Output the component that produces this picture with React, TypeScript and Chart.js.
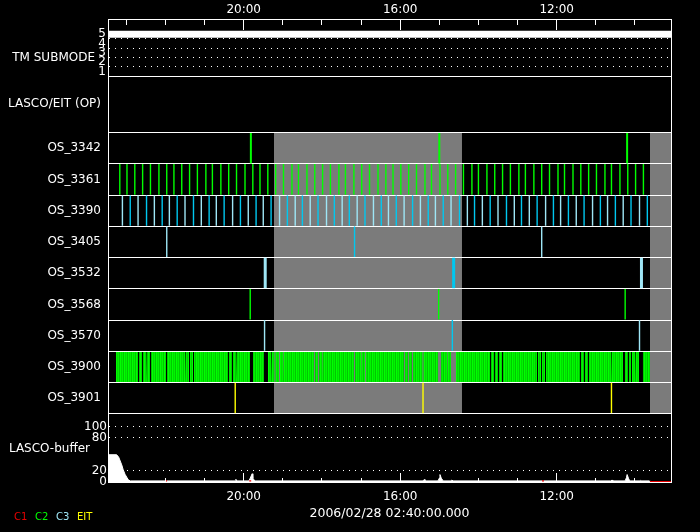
import React, { useEffect, useRef } from 'react';
import { Chart, registerables } from 'chart.js';

Chart.register(...registerables);

// ---------------- data (times of day, the axis runs backwards) ----------------
const X_FROM = '23:28:06';
const X_TO = '09:04:42';
const HOUR_TICKS = [10, 11, 12, 13, 14, 15, 16, 17, 18, 19, 20, 21, 22, 23];
const MAJOR_HOURS = [12, 16, 20];
const DATE_TITLE = '2006/02/28 02:40:00.000';

const TM_TITLE = 'TM SUBMODE';
const TM_TICKS = [1, 1.5, 2, 2.5, 3, 3.5, 4, 4.5, 5];
const TM_TIMES = [X_FROM, X_TO];
const TM_VALUES = [5, 5];

const OP_TITLE = 'LASCO/EIT (OP)';

const BUF_TITLE = 'LASCO-buffer';
const BUF_TICKS = [0, 20, 80, 100];
const BUF_TIMES = [
  '23:28', '23:15', '23:12', '23:10', '23:07', '23:05', '23:02', '22:59', '22:57', '22:54',
  '20:13', '20:12', '20:10',
  '19:52', '19:50', '19:47', '19:46', '19:43',
  '15:25', '15:23', '15:22',
  '15:02', '15:00', '14:59', '14:57', '14:54',
  '14:42', '14:41', '14:39',
  '10:37', '10:35', '10:34',
  '10:15', '10:13', '10:12', '10:10', '10:08',
  '09:52', '09:51', '09:50',
  '09:38', '09:37', '09:04',
];
const BUF_VALUES = [
  49.5, 49.5, 46, 40, 31, 23, 14, 8, 4, 2,
  2, 4.8, 2,
  2, 7, 15, 7, 2,
  2, 4.5, 2,
  2, 7, 13.5, 7, 2,
  2, 3.5, 2,
  2, 3.5, 2,
  2, 8, 13.5, 7, 2,
  2, 3, 2,
  2, 0, 0,
];
const RED_MARK_TIMES = ['21:59', '19:50', '12:21'];
const RED_SPAN = ['09:37', X_TO];

const NO_DATA = [
  ['19:13:32', '14:25:14'],
  ['09:36:54', X_TO],
];

const ROW_NAMES = ['OS_3342', 'OS_3361', 'OS_3390', 'OS_3405', 'OS_3532', 'OS_3568', 'OS_3570', 'OS_3900', 'OS_3901'];

const OS_3342_T = ['19:49', '15:00', '10:12'];
const OS_3361_T = [
  '23:10', '22:59', '22:47', '22:35', '22:23', '22:10', '21:58', '21:47', '21:35', '21:23',
  '21:11', '20:58', '20:48', '20:35', '20:23', '20:11', '19:58', '19:46', '19:35', '19:23',
  '19:11', '18:59', '18:46', '18:36', '18:23', '18:11', '17:59', '17:47', '17:34', '17:24',
  '17:11', '16:59', '16:47', '16:34', '16:22', '16:11', '15:59', '15:47', '15:35', '15:22',
  '15:12', '14:59', '14:47', '14:35', '14:23', '14:10', '14:00', '13:47', '13:35', '13:23',
  '13:11', '12:58', '12:48', '12:35', '12:23', '12:11', '11:58', '11:48', '11:35', '11:23',
  '11:11', '10:59', '10:46', '10:36', '10:23', '10:11', '09:59', '09:47',
];
const OS_3390_T = [
  '23:06', '22:54', '22:42', '22:29', '22:17', '22:05', '21:54', '21:42', '21:30', '21:17',
  '21:05', '20:53', '20:42', '20:30', '20:17', '20:05', '19:53', '19:41', '19:30', '19:18',
  '19:05', '18:53', '18:41', '18:30', '18:18', '18:06', '17:53', '17:41', '17:29', '17:18',
  '17:06', '16:54', '16:41', '16:29', '16:18', '16:06', '15:54', '15:41', '15:29', '15:17',
  '15:06', '14:54', '14:42', '14:29', '14:17', '14:06', '13:54', '13:42', '13:30', '13:17',
  '13:05', '12:54', '12:42', '12:30', '12:17', '12:05', '11:54', '11:42', '11:30', '11:18',
  '11:05', '10:53', '10:42', '10:30', '10:18', '10:06', '09:53', '09:41',
];
const OS_3405_T = ['21:58', '17:10', '12:23'];
const OS_3532_T = ['19:27', '14:38', '09:50'];
const OS_3568_T = ['19:50', '15:01', '10:15'];
const OS_3570_T = ['19:28', '14:40', '09:53'];
const OS_3900_ON = [
  ['23:15:48', '22:42:06'], ['22:40:36', '22:35:54'], ['22:34:24', '22:29:48'], ['22:28:18', '22:23:42'],
  ['22:22:06', '21:59:06'], ['21:57:36', '21:30:00'], ['21:28:30', '21:23:54'], ['21:22:18', '21:17:42'],
  ['21:16:12', '20:24:06'], ['20:22:30', '20:17:54'], ['20:16:24', '20:11:48'], ['20:10:18', '19:50:18'],
  ['19:45:42', '19:28:54'], ['19:22:42', '19:18:06'], ['19:16:36', '19:12:48'], ['19:11:12', '19:05:54'],
  ['19:04:18', '18:59:42'], ['18:58:12', '18:12:12'], ['18:10:42', '18:06:06'], ['18:04:30', '17:59:54'],
  ['17:58:24', '17:10:48'], ['17:09:18', '17:00:06'], ['16:58:36', '16:54:00'], ['16:52:30', '15:54:12'],
  ['15:52:42', '15:48:06'], ['15:46:36', '15:42:00'], ['15:40:24', '15:25:48'], ['15:24:18', '15:02:00'],
  ['14:57:24', '14:48:12'], ['14:46:42', '14:42:06'], ['14:34:24', '13:42:18'], ['13:40:48', '13:36:12'],
  ['13:34:42', '13:30:06'], ['13:28:30', '13:23:54'], ['13:22:24', '12:30:18'], ['12:28:42', '12:24:06'],
  ['12:22:36', '12:18:00'], ['12:16:24', '11:24:18'], ['11:22:42', '11:18:12'], ['11:16:36', '11:12:00'],
  ['11:10:30', '10:36:42'], ['10:35:12', '10:18:18'], ['10:15:18', '10:10:42'], ['10:09:06', '10:06:06'],
  ['10:04:30', '09:59:54'], ['09:58:24', '09:53:48'], ['09:47:42', '09:36:54'],
];
const OS_3901_T = ['20:13', '15:25', '10:36'];

// ---------------- styles ----------------
const WHITE = '#ffffff';
const GRAY = '#7b7b7b';
const GREEN = '#00ff00';
const CYAN = '#00c8f0';
const LIGHT_CYAN = '#9ee6f6';
const YELLOW = '#ffff00';
const RED = '#e80000';
const CLEAR = 'rgba(0,0,0,0)';
const FAMILY = "'DejaVu Sans', sans-serif";
const FONT = { family: FAMILY, size: 12 };
const LEFT_W = 108;
const THIN = 1.4;

const LEGEND: [string, string][] = [['C1', RED], ['C2', GREEN], ['C3', LIGHT_CYAN], ['EIT', YELLOW]];

const alt = (a: string, b: string) => (c: any) => (c.dataIndex % 2 ? b : a);

const ROW_STYLE: any[] = [
  { times: OS_3342_T, thick: 2, color: GREEN },
  { times: OS_3361_T, thick: THIN, color: GREEN },
  { times: OS_3390_T, thick: THIN, color: alt(LIGHT_CYAN, CYAN) },
  { times: OS_3405_T, thick: THIN, color: [LIGHT_CYAN, CYAN, LIGHT_CYAN] },
  { times: OS_3532_T, thick: 3, color: [LIGHT_CYAN, CYAN, LIGHT_CYAN] },
  { times: OS_3568_T, thick: THIN, color: GREEN },
  { times: OS_3570_T, thick: THIN, color: [LIGHT_CYAN, CYAN, LIGHT_CYAN] },
  null,
  { times: OS_3901_T, thick: THIN, color: YELLOW },
];

const toMin = (s: string): number => {
  const p = s.split(':').map(Number);
  return p[0] * 60 + p[1] + (p[2] || 0) / 60;
};
const X_MIN = toMin(X_TO);
const X_MAX = toMin(X_FROM);
const hhmm = (v: number) => `${Math.round(v / 60)}:00`;

const step = (a: string, b: string) => [
  { x: toMin(a), y: 0 }, { x: toMin(a), y: 1 }, { x: toMin(b), y: 1 }, { x: toMin(b), y: 0 },
];

const rowScale = (weight: number, stackWeight: number, label: string) => ({
  type: 'linear', axis: 'y', position: 'left', stack: 'rows', stackWeight, weight,
  min: 0, max: 1, offset: false,
  afterFit: (s: any) => { s.width = LEFT_W; },
  afterBuildTicks: (s: any) => { s.ticks = [0, 0.5, 1].map((v) => ({ value: v })); },
  ticks: { autoSkip: false, padding: 7, color: WHITE, font: FONT, callback: (v: number) => (v === 0.5 ? label : '') },
  grid: { drawTicks: false, lineWidth: 1, color: (c: any) => (c.tick && c.tick.value === 0.5 ? CLEAR : WHITE) },
  border: { display: true, color: WHITE, width: 1 },
});

const tickMarks = {
  id: 'tickMarks',
  afterDraw(chart: any) {
    const { ctx, chartArea } = chart;
    const xs = chart.scales.x;
    ctx.save();
    ctx.strokeStyle = WHITE;
    ctx.lineWidth = 1;
    ctx.beginPath();
    HOUR_TICKS.forEach((h) => {
      const px = Math.floor(xs.getPixelForValue(h * 60)) + 0.5;
      const major = MAJOR_HOURS.includes(h);
      ctx.moveTo(px, chartArea.top);
      ctx.lineTo(px, chartArea.top + (major ? 11 : 6));
      ctx.moveTo(px, chartArea.bottom);
      ctx.lineTo(px, chartArea.bottom - (major ? 9 : 4));
    });
    ctx.stroke();
    ctx.restore();
  },
};

const sideText = {
  id: 'sideText',
  afterDraw(chart: any) {
    const { ctx, chartArea } = chart;
    ctx.save();
    ctx.fillStyle = WHITE;
    ctx.font = `12px ${FAMILY}`;
    ctx.textAlign = 'right';
    ctx.textBaseline = 'middle';
    const tm = chart.scales.yTM;
    ctx.fillText(TM_TITLE, chartArea.left - 13, tm.getPixelForValue(2.5));
    const buf = chart.scales.yBuf;
    ctx.fillText(BUF_TITLE, chartArea.left - 18, (buf.top + buf.bottom) / 2 + 1);
    ctx.textAlign = 'left';
    ctx.font = `10px ${FAMILY}`;
    LEGEND.forEach(([t, c], i) => {
      ctx.fillStyle = c;
      ctx.fillText(t, 14 + i * 21, 517);
    });
    ctx.restore();
  },
};

function buildConfig(pattern: any): any {
  const datasets: any[] = [];
  datasets.push({
    type: 'line', xAxisID: 'x', yAxisID: 'yTM',
    data: TM_TIMES.map((t, i) => ({ x: toMin(t), y: TM_VALUES[i] })),
    borderColor: WHITE, borderWidth: 7, pointRadius: 0, fill: false, order: 1,
  });
  ROW_NAMES.forEach((_, i) => {
    NO_DATA.forEach(([a, b]) => {
      datasets.push({
        type: 'line', xAxisID: 'x', yAxisID: `yR${i}`, data: step(a, b),
        borderWidth: 0, borderColor: CLEAR, backgroundColor: GRAY, pointRadius: 0, fill: 'origin', order: 10,
      });
    });
  });
  datasets.push({
    type: 'line', xAxisID: 'x', yAxisID: 'yR7',
    data: OS_3900_ON.flatMap(([a, b]) => step(a, b)),
    borderWidth: 0, borderColor: CLEAR, backgroundColor: pattern || GREEN, pointRadius: 0, fill: 'origin', order: 5,
  });
  ROW_STYLE.forEach((r, i) => {
    if (!r) return;
    datasets.push({
      type: 'bar', xAxisID: 'x', yAxisID: `yR${i}`,
      data: r.times.map((t: string) => ({ x: toMin(t), y: [0, 1] })),
      backgroundColor: r.color, borderWidth: 0, barThickness: r.thick, grouped: false, inflateAmount: 0, order: 0,
    });
  });
  datasets.push({
    type: 'line', xAxisID: 'x', yAxisID: 'yBuf',
    data: BUF_TIMES.map((t, i) => ({ x: toMin(t), y: BUF_VALUES[i] })),
    borderColor: WHITE, borderWidth: 1, backgroundColor: WHITE, pointRadius: 0, fill: 'origin', order: 5,
  });
  datasets.push({
    type: 'bar', xAxisID: 'x', yAxisID: 'yBuf',
    data: RED_MARK_TIMES.map((t) => ({ x: toMin(t), y: [0, 3] })),
    backgroundColor: RED, borderWidth: 0, barThickness: 2, grouped: false, inflateAmount: 0, order: 0,
  });
  datasets.push({
    type: 'line', xAxisID: 'x', yAxisID: 'yBuf',
    data: RED_SPAN.map((t) => ({ x: toMin(t), y: 0 })),
    borderColor: RED, borderWidth: 2, pointRadius: 0, fill: false, order: 0,
  });

  const scales: any = {
    x: {
      type: 'linear', axis: 'x', position: 'top', reverse: true, min: X_MIN, max: X_MAX, offset: false,
      afterFit: (s: any) => { s.height = 19; },
      afterBuildTicks: (s: any) => { s.ticks = MAJOR_HOURS.map((h) => ({ value: h * 60 })); },
      ticks: { color: WHITE, font: FONT, padding: 2, maxRotation: 0, autoSkip: false, callback: hhmm },
      grid: { display: false, drawTicks: false },
      border: { display: true, color: WHITE, width: 1 },
    },
    x2: {
      type: 'linear', axis: 'x', position: 'bottom', reverse: true, min: X_MIN, max: X_MAX, offset: false,
      afterFit: (s: any) => { s.height = 50; },
      afterBuildTicks: (s: any) => { s.ticks = MAJOR_HOURS.map((h) => ({ value: h * 60 })); },
      ticks: { color: WHITE, font: FONT, padding: 8, maxRotation: 0, autoSkip: false, callback: hhmm },
      grid: { display: false, drawTicks: false },
      border: { display: true, color: WHITE, width: 1 },
      title: { display: true, text: DATE_TITLE, color: WHITE, font: { family: FAMILY, size: 12.5 }, padding: { top: 0, bottom: 11 } },
    },
    yTM: {
      type: 'linear', axis: 'y', position: 'left', stack: 'rows', stackWeight: 57, weight: 11,
      min: 0.53, max: 6.64, offset: false,
      afterFit: (s: any) => { s.width = LEFT_W; },
      afterBuildTicks: (s: any) => { s.ticks = TM_TICKS.map((v) => ({ value: v })); },
      ticks: { autoSkip: false, padding: 2, color: WHITE, font: FONT, callback: (v: number) => (Number.isInteger(v) ? String(v) : '') },
      grid: { drawTicks: false, lineWidth: 1, color: (c: any) => (c.tick && Number.isInteger(c.tick.value) ? CLEAR : WHITE) },
      border: { display: true, color: WHITE, width: 1, dash: [1, 5] },
    },
    yOP: rowScale(10, 56.7, OP_TITLE),
  };
  ROW_NAMES.forEach((name, i) => {
    scales[`yR${i}`] = rowScale(9 - i, 31.22, name);
  });
  scales.yBuf = {
    type: 'linear', axis: 'y', position: 'left', stack: 'rows', stackWeight: 68.3, weight: 0,
    min: 0, max: 124, offset: false,
    afterFit: (s: any) => { s.width = LEFT_W; },
    afterBuildTicks: (s: any) => { s.ticks = BUF_TICKS.map((v) => ({ value: v })); },
    ticks: { autoSkip: false, padding: 1, color: WHITE, font: FONT, callback: (v: number) => String(v) },
    grid: { drawTicks: false, lineWidth: 1, color: (c: any) => (c.tick && c.tick.value === 0 ? CLEAR : WHITE) },
    border: { display: true, color: WHITE, width: 1, dash: [1, 5] },
  };
  scales.yRight = {
    type: 'linear', axis: 'y', position: 'right', min: 0, max: 1,
    afterFit: (s: any) => { s.width = 0; },
    ticks: { display: false },
    grid: { display: false, drawTicks: false },
    border: { display: true, color: WHITE, width: 1 },
  };

  return {
    type: 'line',
    data: { datasets },
    options: {
      responsive: false,
      maintainAspectRatio: false,
      devicePixelRatio: 1,
      animation: false,
      events: [],
      layout: { padding: { left: 0, right: 29, top: 0, bottom: 0 } },
      plugins: {
        legend: { display: false },
        tooltip: { enabled: false },
        filler: { drawTime: 'beforeDraw' },
      },
      scales,
    },
    plugins: [tickMarks, sideText],
  };
}

export default function App() {
  const ref = useRef<HTMLCanvasElement>(null);
  useEffect(() => {
    const canvas = ref.current;
    if (!canvas) return;
    const pc = document.createElement('canvas');
    pc.width = 4;
    pc.height = 1;
    const pctx = pc.getContext('2d');
    let pattern: any = null;
    if (pctx) {
      ['#00ff00', '#00dc00', '#00f400', '#00c800'].forEach((c, i) => {
        pctx.fillStyle = c;
        pctx.fillRect(i, 0, 1, 1);
      });
      const mctx = canvas.getContext('2d');
      pattern = mctx ? mctx.createPattern(pc, 'repeat') : null;
    }
    const chart = new Chart(canvas, buildConfig(pattern));
    return () => chart.destroy();
  }, []);
  return (
    <div style={{ position: 'fixed', left: 0, top: 0, width: 700, height: 532, background: '#000' }}>
      <canvas ref={ref} width={700} height={532} style={{ display: 'block', width: 700, height: 532, background: '#000' }} />
    </div>
  );
}
